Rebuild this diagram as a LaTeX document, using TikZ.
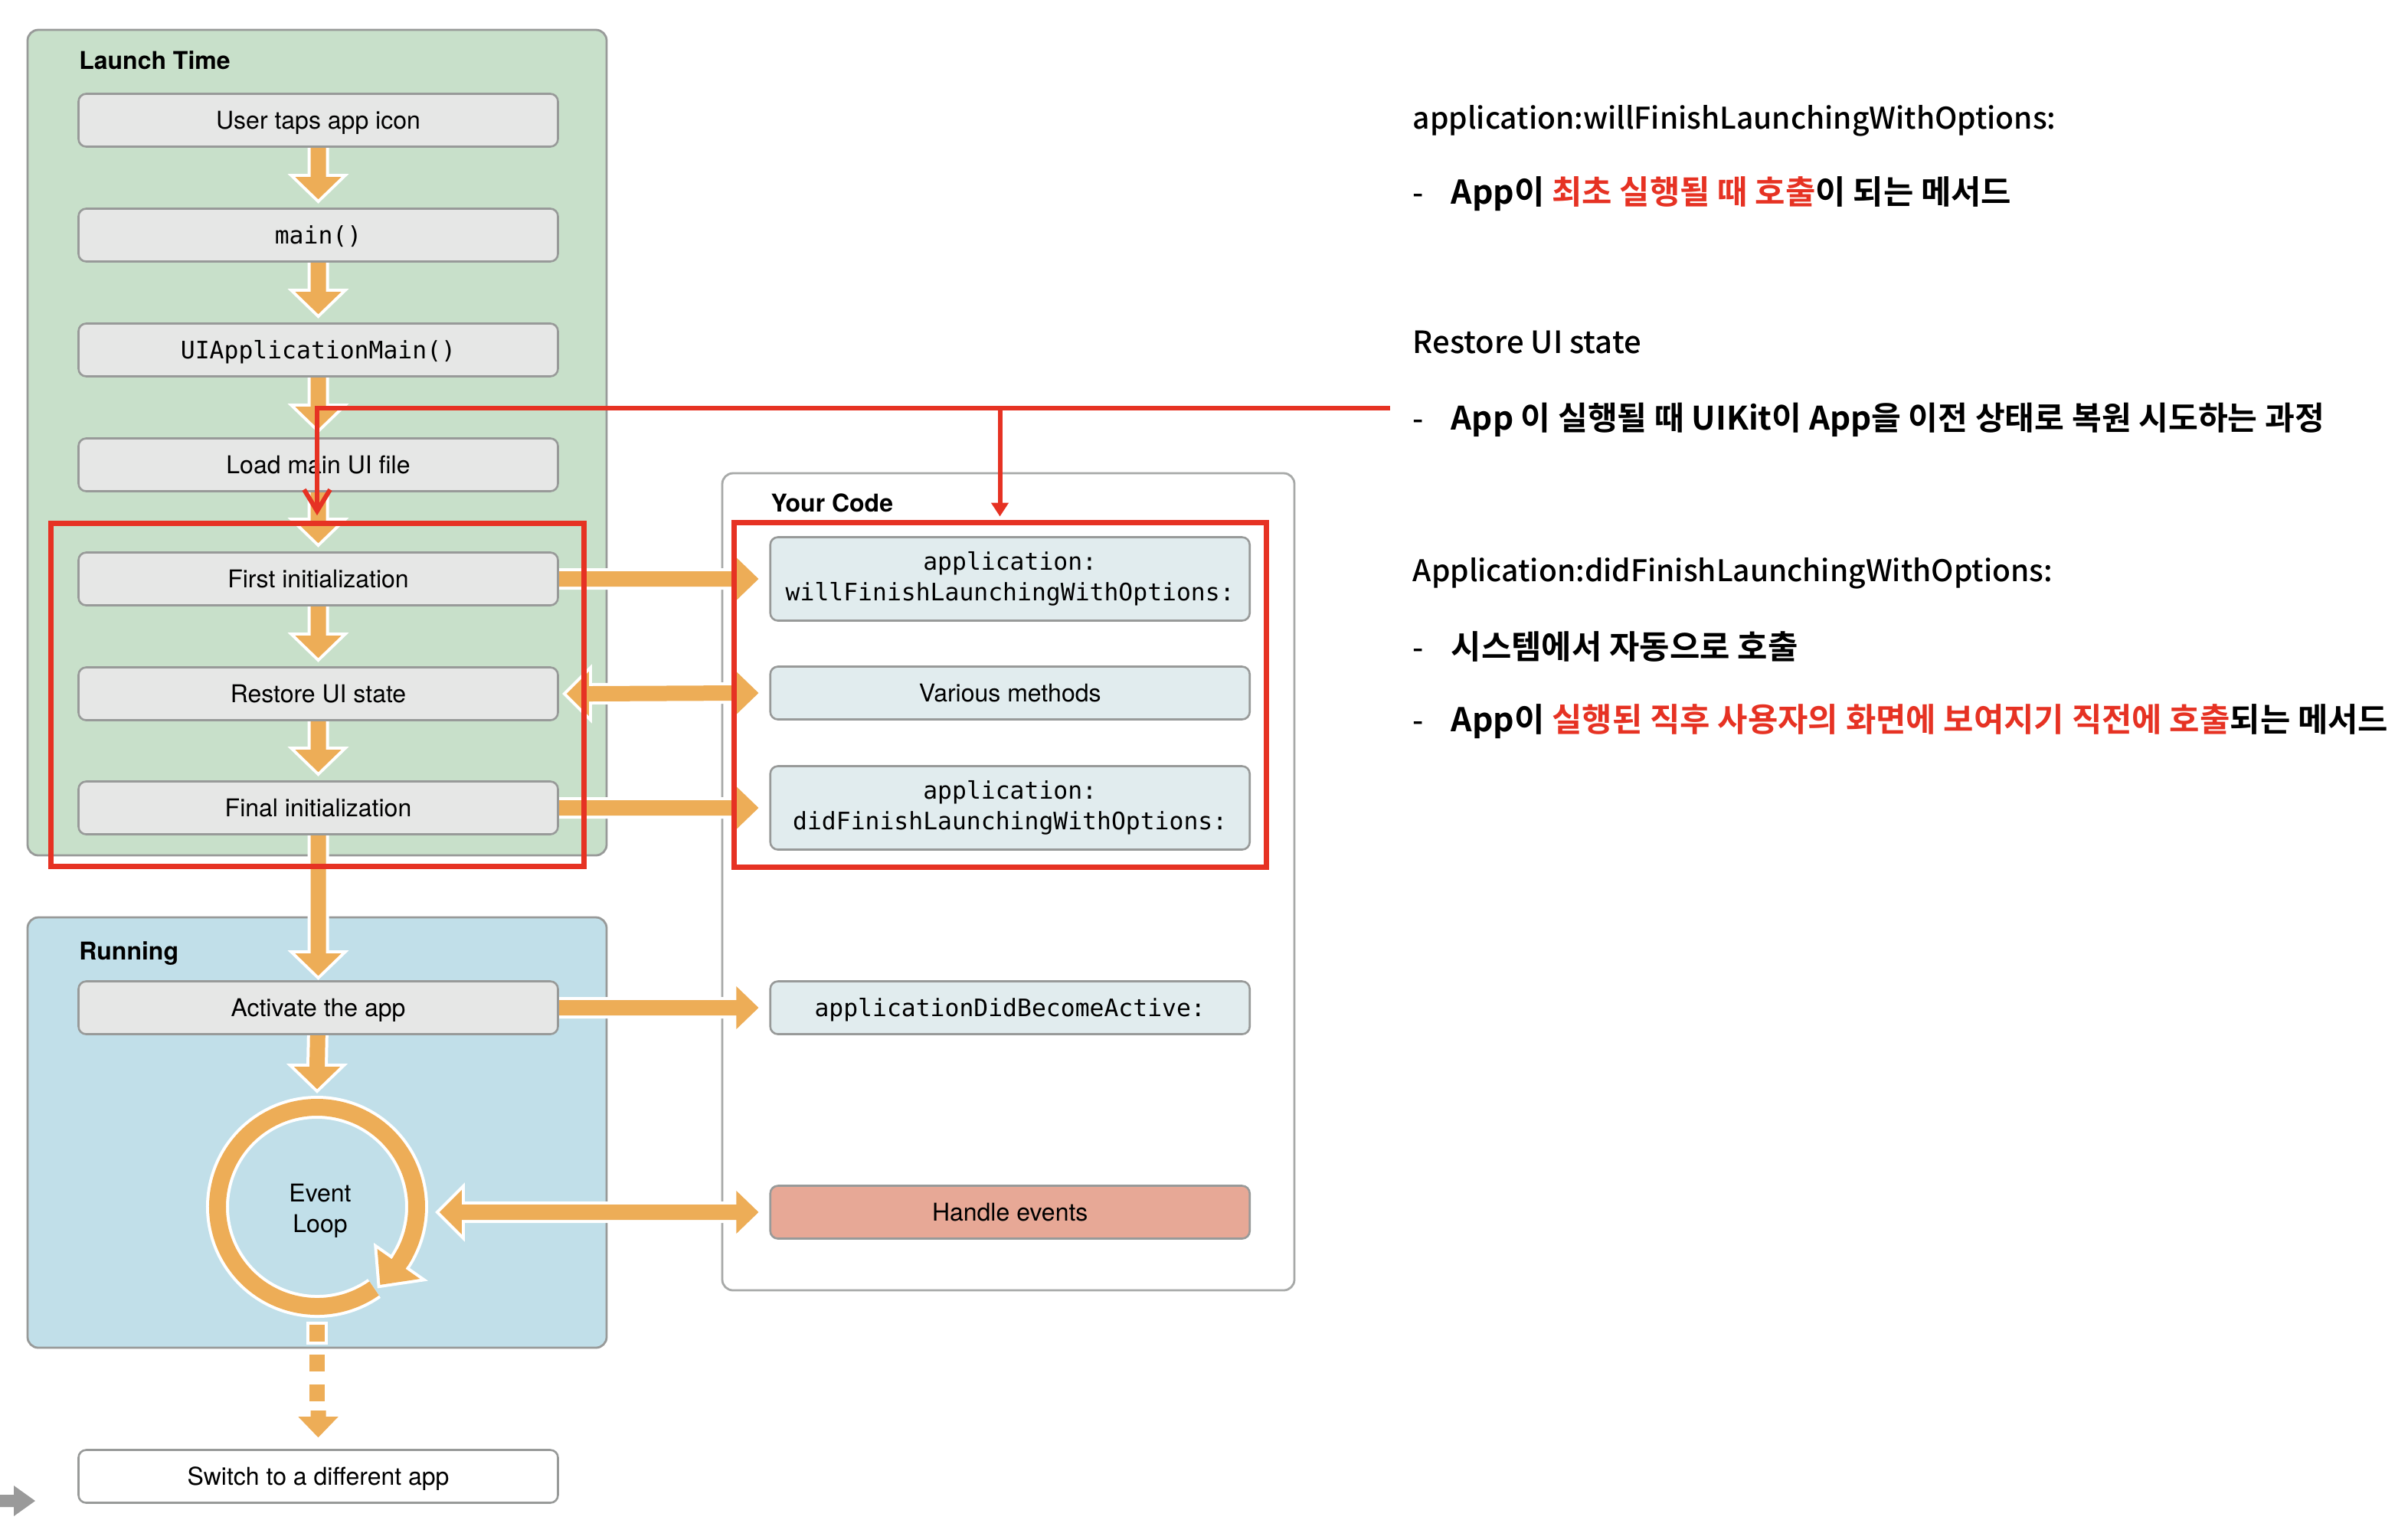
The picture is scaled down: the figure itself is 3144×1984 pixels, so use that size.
\documentclass[tikz,border=0pt]{standalone}
\usepackage{fontspec}
\setmainfont{TeX Gyre Heros}
\newfontfamily\codefont{DejaVu Sans Mono}
\newfontfamily\hangulfont{Noto Sans CJK KR}[UprightFont=* Medium]
\newfontfamily\hangulwide{Noto Sans CJK KR}[UprightFont=* Bold, Scale=1.07]
\newfontfamily\hangulmixed{Noto Sans CJK KR}[UprightFont=* Bold, Scale=1.055]
\newfontfamily\hangulnarrow{Noto Sans CJK KR}[UprightFont=* Medium, Scale=0.974]
\usetikzlibrary{arrows.meta,calc}

\definecolor{flow}{HTML}{EDAD57}
\definecolor{launchbg}{HTML}{C8E0CA}
\definecolor{runbg}{HTML}{C1DFE9}
\definecolor{stepfill}{HTML}{E6E7E6}
\definecolor{codefill}{HTML}{E1ECEE}
\definecolor{eventfill}{HTML}{E7A896}
\definecolor{edge}{HTML}{989A99}
\definecolor{hilite}{HTML}{E63223}
\definecolor{pointer}{HTML}{9A9A9A}

\pgfdeclarelayer{back}
\pgfdeclarelayer{mid}
\pgfdeclarelayer{front}
\pgfsetlayers{back,mid,main,front}

\tikzset{
  group/.style={draw=edge, line width=0.7pt, rounded corners=3.5pt},
  stepbox/.style={draw=edge, line width=0.65pt, fill=stepfill, rounded corners=2.5pt,
    minimum width=156.5pt, minimum height=17.25pt, inner sep=0pt,
    font=\fontsize{8}{10}\selectfont},
  oneline/.style={text height=5.8pt, text depth=0pt},
  codebox/.style={stepbox, fill=codefill, align=center,
    font=\codefont\fontsize{7.85}{9.9}\selectfont},
  tall/.style={minimum height=27.25pt},
  grouplabel/.style={font=\bfseries\fontsize{8}{10}\selectfont, anchor=base west, inner sep=0pt},
  note/.style={font=\hangulfont\fontsize{10}{12}\selectfont, anchor=base west, inner sep=0pt},
  hnote/.style={note, font=\hangulwide\fontsize{10}{12}\selectfont},
  xnote/.style={note, font=\hangulmixed\fontsize{10}{12}\selectfont},
  mnote/.style={note, font=\hangulnarrow\fontsize{10}{12}\selectfont},
  flowarrow/.style={fill=flow, preaction={draw=white, line width=2pt, line join=miter}},
  redframe/.style={draw=hilite, line width=1.75pt, inner sep=0pt},
  redline/.style={draw=hilite, line width=1.5pt},
}

% block arrow pointing down: start point, tip
\newcommand\flowdown[2]{\path[flowarrow] ($(#1)+(-10,0)$) -- ($(#2)+(-10,-29)$) -- ($(#2)+(-30,-29)$) -- (#2) -- ($(#2)+(30,-29)$) -- ($(#2)+(10,-29)$) -- ($(#1)+(10,0)$) -- cycle;}
% block arrow pointing right: start point, tip
\newcommand\flowright[2]{\path[flowarrow] ($(#1)+(0,-10)$) -- ($(#2)+(-29,-10)$) -- ($(#2)+(-29,-28)$) -- (#2) -- ($(#2)+(-29,28)$) -- ($(#2)+(-29,10)$) -- ($(#1)+(0,10)$) -- cycle;}
% block arrow with heads at both ends: left tip, right tip
\newcommand\flowboth[2]{\path[flowarrow] (#1) -- ($(#1)+(29,-29)$) -- ($(#1)+(29,-10)$) -- ($(#2)+(-29,-10)$) -- ($(#2)+(-29,-28)$) -- (#2) -- ($(#2)+(-29,28)$) -- ($(#2)+(-29,10)$) -- ($(#1)+(29,10)$) -- ($(#1)+(29,29)$) -- cycle;}

\begin{document}
\begin{tikzpicture}[x=0.25pt, y=-0.25pt]
\useasboundingbox (0,0) rectangle (3144,1984);

% ---------- group panels ----------
\begin{pgfonlayer}{back}
  \path[group, fill=launchbg] (36,39) rectangle (792,1117);
  \path[group, fill=runbg] (36,1198) rectangle (792,1760);
  \path[group, fill=white, draw=edge!85] (943,618) rectangle (1690,1685);
\end{pgfonlayer}

\node[grouplabel] (launchlabel) at (102.5,90.5) {Launch Time};
\node[grouplabel] (runlabel) at (102.5,1253.7) {Running};
\node[grouplabel] (codelabel) at (1005.7,668) {Your Code};

% ---------- launch sequence ----------
\node[stepbox, oneline] (user) at (415.5,157) {User taps app icon};
\node[stepbox, oneline, font=\codefont\fontsize{7.85}{9.9}\selectfont] (main) at (415.5,307) {main()};
\node[stepbox, oneline, font=\codefont\fontsize{7.85}{9.9}\selectfont] (uiam) at (415.5,457) {UIApplicationMain()};
\node[stepbox, oneline] (load) at (415.5,607) {Load main UI file};
\node[stepbox, oneline] (first) at (415.5,756) {First initialization};
\node[stepbox, oneline] (restore) at (415.5,906) {Restore UI state};
\node[stepbox, oneline] (final) at (415.5,1055) {Final initialization};

% ---------- running ----------
\node[stepbox, oneline] (activate) at (415.5,1316) {Activate the app};
\node[circle, minimum size=72.5pt, inner sep=0pt] (loop) at (414,1576) {};
\node[align=center, inner sep=0pt, font=\fontsize{8}{10}\selectfont] (looptext) at ($(loop.center)+(4,5)$) {Event\\Loop};
\node[stepbox, oneline, fill=white] (switch) at (415.5,1928) {Switch to a different app};

% ---------- your code ----------
\node[codebox, tall] (will) at (1318.7,756) {application:\\willFinishLaunchingWithOptions:};
\node[codebox, oneline, font=\fontsize{8}{10}\selectfont] (various) at (1318.7,905) {Various methods};
\node[codebox, tall] (did) at (1318.7,1055) {application:\\didFinishLaunchingWithOptions:};
\node[codebox, oneline] (active) at (1318.7,1316) {applicationDidBecomeActive:};
\node[codebox, oneline, fill=eventfill, font=\fontsize{8}{10}\selectfont] (handle) at (1318.7,1583) {Handle events};

% ---------- flow arrows ----------
\begin{pgfonlayer}{mid}
  \coordinate (t1) at ($(main.north)+(0,-11)$);
  \coordinate (t2) at ($(uiam.north)+(0,-11)$);
  \coordinate (t3) at ($(load.north)+(0,-11)$);
  \coordinate (t4) at ($(first.north)+(0,-11)$);
  \coordinate (t5) at ($(restore.north)+(0,-11)$);
  \coordinate (t6) at ($(final.north)+(0,-11)$);
  \coordinate (t7) at ($(activate.north)+(0,-6)$);
  \coordinate (t8) at ($(loop.north)+(0,-8)$);
  \flowdown{user.center}{t1}
  \flowdown{main.center}{t2}
  \flowdown{uiam.center}{t3}
  \flowdown{load.center}{t4}
  \flowdown{first.center}{t5}
  \flowdown{restore.center}{t6}
  \flowdown{final.center}{t7}
  \flowdown{activate.center}{t8}

  \coordinate (r1) at ($(will.west)+(-14,0)$);
  \coordinate (r3) at ($(did.west)+(-14,0)$);
  \coordinate (r4) at ($(active.west)+(-14,0)$);
  \flowright{first.center}{r1}
  \flowright{final.center}{r3}
  \flowright{activate.center}{r4}

  \coordinate (b1l) at ($(restore.east)+(10,0)$);
  \coordinate (b1r) at ($(various.west)+(-14,0)$);
  \flowboth{b1l}{b1r}
  \coordinate (b2l) at ($(handle.west -| loop.east)+(14,0)$);
  \coordinate (b2r) at ($(handle.west)+(-14,0)$);
  \flowboth{b2l}{b2r}

  % event loop ring, running clockwise into its own head
  \draw[white, line width=7.5pt] ([shift={(loop.center)}]55:130) arc[start angle=55, end angle=396, radius=130];
  \draw[flow, line width=5.5pt] ([shift={(loop.center)}]55:130) arc[start angle=55, end angle=396, radius=130];
  \path[flowarrow] ([shift={(loop.center)}]395:96) -- ([shift={(loop.center)}]395:164) -- ([shift={(loop.center)}]411:131) -- cycle;
  \draw[flow, line width=5.5pt] ([shift={(loop.center)}]388:130) arc[start angle=388, end angle=396.5, radius=130];

  % dashed hand-off to another app
  \foreach \k in {0,1,2}
    \path[flowarrow] ($(loop.south)+(-10,8+39*\k)$) rectangle ++(20,22);
  \coordinate (dtip) at ($(switch.north)+(0,-15)$);
  \path[flowarrow] ($(dtip)+(-10,-35)$) -- ($(dtip)+(-10,-27)$) -- ($(dtip)+(-26,-27)$) -- (dtip) -- ($(dtip)+(26,-27)$) -- ($(dtip)+(10,-27)$) -- ($(dtip)+(10,-35)$) -- cycle;
\end{pgfonlayer}

% partial pointer at the lower left edge
\fill[pointer] (0,1952) -- (18,1952) -- (18,1940) -- (46,1960) -- (18,1980) -- (18,1968) -- (0,1968) -- cycle;

% ---------- highlight frames and pointer ----------
\begin{pgfonlayer}{front}
  \node[redframe, minimum width=174pt, minimum height=112pt] (leftframe) at (414,907) {};
  \node[redframe, minimum width=173.75pt, minimum height=112.5pt] (rightframe) at (1305.5,907) {};
  \coordinate (rend) at (1815,533);
  \draw[redline, shorten >=1.6pt, -{Straight Barb[length=7pt,width=8.5pt]}]
    (rend) -- (rend -| leftframe.north) -- (leftframe.north);
  \draw[redline, shorten >=1pt, -{Triangle[length=4.5pt,width=5.5pt]}]
    (rend -| rightframe.north) -- (rightframe.north);
\end{pgfonlayer}

% ---------- notes ----------
\node[mnote] (n1) at (1844,168) {application:willFinishLaunchingWithOptions:};
\node[note] (d2) at (1844,266) {-};
\node[hnote] (n2) at (1894,266) {App이 {\color{hilite}최초 실행될 때 호출}이 되는 메서드};
\node[note] (n3) at (1844,461.5) {Restore UI state};
\node[note] (d4) at (1844,561) {-};
\node[xnote] (n4) at (1894,561) {App 이 실행될 때 UIKit이 App을 이전 상태로 복원 시도하는 과정};
\node[mnote] (n5) at (1844,759) {Application:didFinishLaunchingWithOptions:};
\node[note] (d6) at (1844,860) {-};
\node[hnote] (n6) at (1894,860) {시스템에서 자동으로 호출};
\node[note] (d7) at (1844,955) {-};
\node[hnote] (n7) at (1894,955) {App이 {\color{hilite}실행된 직후 사용자의 화면에 보여지기 직전에 호출}되는 메서드};
\end{tikzpicture}
\end{document}
